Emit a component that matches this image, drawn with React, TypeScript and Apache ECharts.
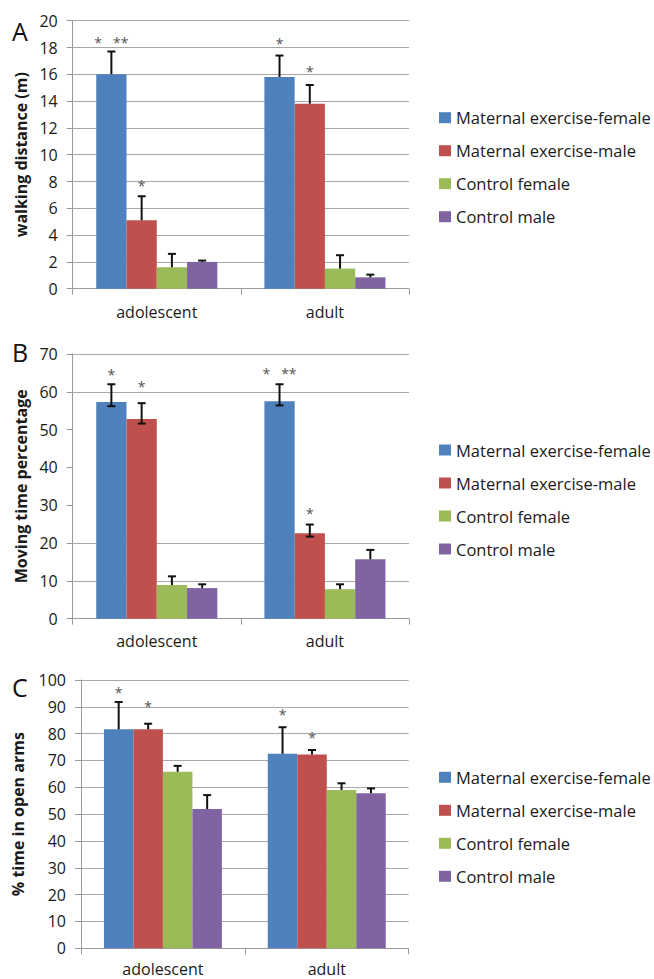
import React, { useEffect, useRef } from "react";
import * as echarts from "echarts";

// ---------- data ----------
const categories = ["adolescent", "adult"];
const seriesNames = [
  "Maternal exercise-female",
  "Maternal exercise-male",
  "Control female",
  "Control male",
];

// Panel A: walking distance (m) — [adolescent, adult] per group
const walkMeans = [
  [16.0, 15.8],
  [5.1, 13.8],
  [1.6, 1.5],
  [2.0, 0.85],
];
const walkErrHigh = [
  [17.7, 17.4],
  [6.9, 15.2],
  [2.6, 2.5],
  [2.1, 1.05],
];
const walkStars = [
  { cat: 0, bar: 0, y: 18.6, text: "*   **" },
  { cat: 0, bar: 1, y: 7.9, text: "*" },
  { cat: 1, bar: 0, y: 18.5, text: "*" },
  { cat: 1, bar: 1, y: 16.4, text: "*" },
];
const walkTicks = { min: 0, max: 20, interval: 2 };

// Panel B: moving time percentage
const movingMeans = [
  [57.3, 57.5],
  [52.8, 22.6],
  [8.9, 7.8],
  [8.1, 15.7],
];
const movingErrHigh = [
  [62.0, 62.0],
  [57.0, 24.9],
  [11.2, 9.1],
  [9.1, 18.2],
];
const movingErrLow = [
  [56.2, 56.4],
  [51.6, 21.7],
  [null, null],
  [null, null],
];
const movingStars = [
  { cat: 0, bar: 0, y: 65.3, text: "*" },
  { cat: 0, bar: 1, y: 62.3, text: "*" },
  { cat: 1, bar: 0, y: 65.6, text: "*   **" },
  { cat: 1, bar: 1, y: 28.5, text: "*" },
];
const movingGridLines = [10, 20, 60, 70];
const movingTicks = { min: 0, max: 70, interval: 10 };

// Panel C: % time in open arms
const openMeans = [
  [81.6, 72.5],
  [81.6, 72.2],
  [65.8, 59.0],
  [51.9, 57.8],
];
const openErrHigh = [
  [91.8, 82.4],
  [83.7, 73.9],
  [68.0, 61.5],
  [57.1, 59.6],
];
const openStars = [
  { cat: 0, bar: 0, y: 96.3, text: "*" },
  { cat: 0, bar: 1, y: 91.3, text: "*" },
  { cat: 1, bar: 0, y: 88.2, text: "*" },
  { cat: 1, bar: 1, y: 79.8, text: "*" },
];
const openTicks = { min: 0, max: 100, interval: 10 };

// ---------- styling ----------
const COLORS = ["#4F81BD", "#C0504D", "#9BBB59", "#8064A2"];
const FONT = '"Open Sans", "Noto Sans", sans-serif';
const GAP = 0.28;
const AXIS_COLOR = "#9a9a9a";
const GRID_COLOR = "#a8a8a8";
const TEXT_COLOR = "#1a1a1a";

type Panel = {
  means: number[][];
  hi: number[][];
  lo?: (number | null)[][];
  stars: { cat: number; bar: number; y: number; text: string }[];
  ticks: { min: number; max: number; interval: number };
  title: string;
  letter: string;
  letterY: number;
  grid: { left: number; top: number; width: number; height: number };
  nameGap: number;
  catMargin: number;
  customGrid?: number[];
  legendTop: number;
};

const panels: Panel[] = [
  {
    means: walkMeans,
    hi: walkErrHigh,
    stars: walkStars,
    ticks: walkTicks,
    title: "walking distance (m)",
    letter: "A",
    letterY: 30.5,
    grid: { left: 72.7, top: 20.7, width: 336.3, height: 268 },
    nameGap: 44,
    catMargin: 15,
    legendTop: 109.2,
  },
  {
    means: movingMeans,
    hi: movingErrHigh,
    lo: movingErrLow,
    stars: movingStars,
    ticks: movingTicks,
    title: "Moving time percentage",
    letter: "B",
    letterY: 352,
    grid: { left: 72.7, top: 354, width: 336.3, height: 264.7 },
    nameGap: 43,
    catMargin: 14,
    customGrid: movingGridLines,
    legendTop: 441.5,
  },
  {
    means: openMeans,
    hi: openErrHigh,
    stars: openStars,
    ticks: openTicks,
    title: "% time in open arms",
    letter: "C",
    letterY: 687,
    grid: { left: 81, top: 680, width: 327.7, height: 268.3 },
    nameGap: 55,
    catMargin: 13,
    legendTop: 768.8,
  },
];

function barCenter(api: any, cat: number, bar: number, v: number) {
  const band = api.size([1, 0])[0];
  const bw = (band * (1 - GAP)) / 4;
  const p = api.coord([cat, v]);
  return [p[0] + (bar - 1.5) * bw, p[1]];
}

function buildOption() {
  const grid: any[] = [];
  const xAxis: any[] = [];
  const yAxis: any[] = [];
  const series: any[] = [];
  const legend: any[] = [];
  const graphic: any[] = [];

  panels.forEach((P, p) => {
    grid.push({ ...P.grid, containLabel: false });
    xAxis.push({
      type: "category",
      gridIndex: p,
      data: categories,
      axisLine: { lineStyle: { color: AXIS_COLOR, width: 1 } },
      axisTick: { show: true, length: 6, alignWithLabel: false, lineStyle: { color: AXIS_COLOR } },
      axisLabel: { fontSize: 16, fontFamily: FONT, color: TEXT_COLOR, margin: P.catMargin },
      splitLine: { show: false },
    });
    yAxis.push({
      type: "value",
      gridIndex: p,
      min: P.ticks.min,
      max: P.ticks.max,
      interval: P.ticks.interval,
      name: P.title,
      nameLocation: "middle",
      nameRotate: 90,
      nameGap: P.nameGap,
      nameTextStyle: { fontSize: 16, fontWeight: "bold", fontFamily: FONT, color: TEXT_COLOR },
      axisLine: { show: true, lineStyle: { color: AXIS_COLOR, width: 1 } },
      axisTick: { show: true, length: 6, lineStyle: { color: AXIS_COLOR } },
      axisLabel: { fontSize: 16, fontFamily: FONT, color: TEXT_COLOR, margin: 15 },
      splitLine: { show: !P.customGrid, lineStyle: { color: GRID_COLOR, width: 1 } },
    });

    P.means.forEach((vals, i) => {
      const s: any = {
        type: "bar",
        name: seriesNames[i],
        xAxisIndex: p,
        yAxisIndex: p,
        data: vals,
        barGap: "0%",
        barCategoryGap: GAP * 100 + "%",
        itemStyle: { color: COLORS[i] },
        silent: true,
      };
      if (i === 0 && P.customGrid) {
        s.markLine = {
          silent: true,
          z: 1,
          symbol: "none",
          label: { show: false },
          lineStyle: { color: GRID_COLOR, type: "solid", width: 1 },
          data: P.customGrid.map((v) => ({ yAxis: v })),
        };
      }
      series.push(s);
    });

    // error bars
    const errData: number[][] = [];
    P.means.forEach((vals, i) => {
      vals.forEach((m, c) => {
        const loRaw = P.lo ? P.lo[i][c] : null;
        errData.push([c, i, m, P.hi[i][c], loRaw == null ? m : loRaw]);
      });
    });
    series.push({
      type: "custom",
      xAxisIndex: p,
      yAxisIndex: p,
      silent: true,
      z: 5,
      encode: { x: 0, y: 3 },
      data: errData,
      renderItem: (params: any, api: any) => {
        const c = api.value(0);
        const i = api.value(1);
        const m = api.value(2);
        const hi = api.value(3);
        const lo = api.value(4);
        const [cx, yM] = barCenter(api, c, i, m);
        const yHi = api.coord([c, hi])[1];
        const hasLo = lo < m - 1e-9;
        const yLo = hasLo ? api.coord([c, lo])[1] : yM;
        const st = { stroke: "#111", lineWidth: 2 };
        const cap = 4;
        const children: any[] = [
          { type: "line", shape: { x1: cx, y1: yLo, x2: cx, y2: yHi }, style: st },
          { type: "line", shape: { x1: cx - cap, y1: yHi, x2: cx + cap, y2: yHi }, style: st },
        ];
        if (hasLo) {
          children.push({ type: "line", shape: { x1: cx - cap, y1: yLo, x2: cx + cap, y2: yLo }, style: st });
        }
        return { type: "group", children };
      },
    });

    // significance asterisks
    const stars = P.stars;
    series.push({
      type: "custom",
      xAxisIndex: p,
      yAxisIndex: p,
      silent: true,
      z: 6,
      encode: { x: 0, y: 2 },
      data: stars.map((s) => [s.cat, s.bar, s.y]),
      renderItem: (params: any, api: any) => {
        const st = stars[params.dataIndex];
        const [cx, cy] = barCenter(api, api.value(0), api.value(1), api.value(2));
        return {
          type: "text",
          x: cx,
          y: cy + 3,
          style: {
            text: st.text,
            fill: "#555",
            fontSize: 14,
            fontFamily: FONT,
            align: "center",
            verticalAlign: "middle",
          },
        };
      },
    });

    legend.push({
      orient: "vertical",
      left: 439,
      top: P.legendTop,
      padding: 0,
      data: seriesNames,
      icon: "rect",
      itemWidth: 12,
      itemHeight: 11,
      itemGap: 16,
      selectedMode: false,
      textStyle: { fontSize: 16.5, fontFamily: FONT, color: TEXT_COLOR, lineHeight: 16.5 },
    });

    graphic.push({
      type: "text",
      x: 12,
      y: P.letterY,
      style: {
        text: P.letter,
        fontSize: 25,
        fontFamily: FONT,
        fill: "#111",
        verticalAlign: "middle",
        align: "left",
      },
    });
  });

  return {
    animation: false,
    backgroundColor: "#ffffff",
    grid,
    xAxis,
    yAxis,
    series,
    legend,
    graphic,
  };
}

export default function App() {
  const ref = useRef<HTMLDivElement>(null);
  useEffect(() => {
    if (!ref.current) return;
    const chart = echarts.init(ref.current, undefined, { renderer: "svg" });
    chart.setOption(buildOption() as any);
    return () => chart.dispose();
  }, []);
  return (
    <div
      ref={ref}
      style={{ position: "absolute", left: 0, top: 0, width: 654, height: 979, background: "#fff" }}
    />
  );
}
